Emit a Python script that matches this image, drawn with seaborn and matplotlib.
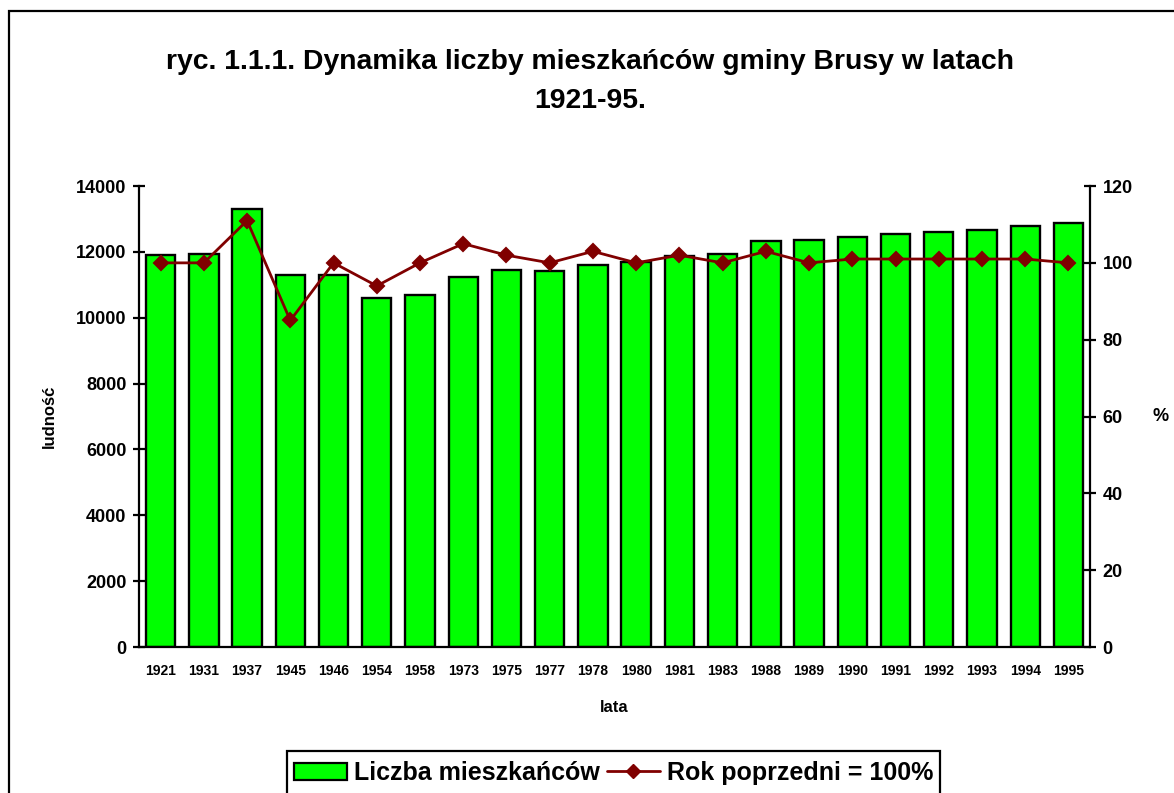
import numpy as np
import pandas as pd
import matplotlib
matplotlib.use('Agg')
import matplotlib.pyplot as plt
import matplotlib.patches as patches
from matplotlib.lines import Line2D
import seaborn as sns

# dane
lata = ['1921', '1931', '1937', '1945', '1946', '1954', '1958', '1973', '1975', '1977', '1978',
        '1980', '1981', '1983', '1988', '1989', '1990', '1991', '1992', '1993', '1994', '1995']
ludnosc = [11900, 11950, 13300, 11290, 11290, 10610, 10680, 11230, 11460, 11420, 11590,
           11680, 11890, 11940, 12320, 12370, 12460, 12530, 12600, 12670, 12800, 12870]
rok_poprzedni = [100, 100, 111, 85, 100, 94, 100, 105, 102, 100, 103,
                 100, 102, 100, 103, 100, 101, 101, 101, 101, 101, 100]

df = pd.DataFrame({'lata': lata, 'ludnosc': ludnosc, 'proc': rok_poprzedni})

sns.set_style('white')
plt.rcParams['font.family'] = ['Liberation Sans', 'DejaVu Sans']
plt.rcParams['font.weight'] = 'bold'
plt.rcParams['text.color'] = 'black'
plt.rcParams['axes.labelcolor'] = 'black'
plt.rcParams['xtick.color'] = 'black'
plt.rcParams['ytick.color'] = 'black'

fig = plt.figure(figsize=(11.74, 7.93), dpi=100)
ax = fig.add_axes([0.1184, 0.1841, 0.8101, 0.5813])

sns.barplot(data=df, x='lata', y='ludnosc', ax=ax, color='#00FF00', saturation=1,
            edgecolor='black', linewidth=1.7, width=0.68)
ax.set_xlim(-0.5, len(lata) - 0.5)
ax.set_ylim(0, 14000)
ax.set_yticks(np.arange(0, 14001, 2000))

ax2 = ax.twinx()
sns.pointplot(data=df, x='lata', y='proc', ax=ax2, color='#800000', markers='D',
              linestyles='-', markersize=7, linewidth=2)
ax2.set_xlim(-0.5, len(lata) - 0.5)
ax2.set_ylim(0, 120)
ax2.set_yticks(np.arange(0, 121, 20))

for a in (ax, ax2):
    a.spines['top'].set_visible(False)
    for s in ['left', 'right', 'bottom']:
        a.spines[s].set_color('black')
        a.spines[s].set_linewidth(1.6)
    a.grid(False)

ax.spines['right'].set_visible(False)
ax2.spines['left'].set_visible(False)
ax2.spines['bottom'].set_visible(False)

ax.tick_params(axis='y', direction='inout', length=8, width=1.6, pad=5, labelsize=13)
ax2.tick_params(axis='y', direction='inout', length=8, width=1.6, pad=5, labelsize=13)
ax.set_xticks(np.arange(-0.5, len(lata)), minor=True)
ax.tick_params(axis='x', which='major', length=0, pad=12, labelsize=10)
ax.tick_params(axis='x', which='minor', direction='inout', length=8, width=1.6)
for lab in ax.get_xticklabels() + ax.get_yticklabels() + ax2.get_yticklabels():
    lab.set_fontweight('bold')

ax.set_xlabel('lata', fontsize=12, fontweight='bold', labelpad=16)
ax.set_ylabel('ludność', fontsize=12, fontweight='bold', labelpad=14)
ax2.set_ylabel('%', fontsize=13, fontweight='bold', rotation=0, labelpad=20, va='center')

fig.text(0.5026, 1 - 62 / 793, 'ryc. 1.1.1. Dynamika liczby mieszkańców gminy Brusy w latach',
         ha='center', va='center', fontsize=20.4, fontweight='bold')
fig.text(0.5026, 1 - 101 / 793, '1921-95.', ha='center', va='center', fontsize=20.4, fontweight='bold')

# ramka wykresu
fig.patches.append(patches.Rectangle((9 / 1174, -0.1), 1.2, 1.1 - 11 / 793, transform=fig.transFigure,
                                     fill=False, edgecolor='black', linewidth=1.6))
# ramka legendy (dolna krawedz poza obrazkiem, jak w oryginale)
fig.patches.append(patches.Rectangle((287 / 1174, -0.05), 653 / 1174, 0.05 + 1 - 751 / 793,
                                     transform=fig.transFigure, fill=False, edgecolor='black',
                                     linewidth=1.6))

uchwyty = [patches.Patch(facecolor='#00FF00', edgecolor='black', linewidth=1.6),
           Line2D([0], [0], color='#800000', marker='D', markersize=7, linewidth=2)]
leg = fig.legend(uchwyty, ['Liczba mieszkańców', 'Rok poprzedni = 100%'], loc='center',
                 bbox_to_anchor=(0.5226, 1 - 773 / 793), ncol=2, frameon=False,
                 prop={'size': 18, 'weight': 'bold'}, handlelength=2.1, columnspacing=0.3,
                 handletextpad=0.28, borderpad=0, borderaxespad=0)

plt.savefig('out.png', dpi=100)
